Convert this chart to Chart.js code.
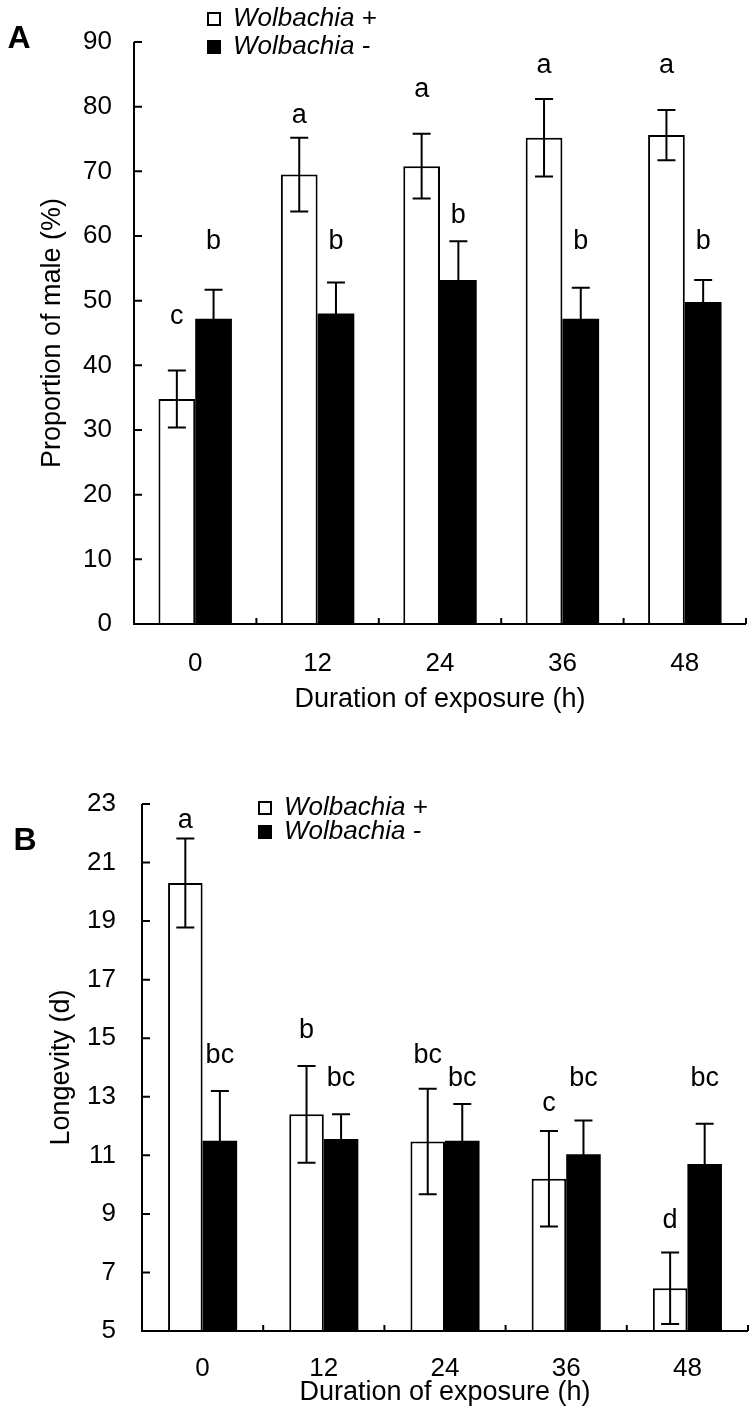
<!DOCTYPE html>
<html>
<head>
<meta charset="utf-8">
<script src="https://cdn.jsdelivr.net/npm/chart.js@4.4.0/dist/chart.umd.min.js"></script>
<style>
  html, body { margin: 0; padding: 0; background: #fff; }
  #wrapA { position: absolute; left: 0; top: 0; width: 756px; height: 720px; }
  #wrapB { position: absolute; left: 0; top: 720px; width: 756px; height: 694px; }
</style>
</head>
<body>
<div id="wrapA"><canvas id="chartA"></canvas></div>
<div id="wrapB"><canvas id="chartB"></canvas></div>
<script>
const hours = ['0', '12', '24', '36', '48'];
const seriesNames = ['Wolbachia +', 'Wolbachia -'];

// panel A: proportion of male (%)
const maleWolPlus = [34.8, 69.5, 70.8, 75.2, 75.6];
const maleWolPlusErr = [4.4, 5.7, 5.0, 6.0, 3.9];
const maleWolMinus = [47.2, 48.0, 53.2, 47.2, 49.8];
const maleWolMinusErr = [4.5, 4.8, 6.0, 4.8, 3.4];
const maleLettersPlus = ['c', 'a', 'a', 'a', 'a'];
const maleLettersPlusAt = [47.5, 78.6, 82.6, 86.4, 86.4];
const maleLettersMinus = ['b', 'b', 'b', 'b', 'b'];
const maleLettersMinusAt = [59.2, 59.2, 63.1, 59.2, 59.2];

// panel B: longevity (d)
const lifeWolPlus = [20.3, 12.4, 11.47, 10.2, 6.46];
const lifeWolPlusErr = [1.52, 1.65, 1.8, 1.63, 1.22];
const lifeWolMinus = [11.5, 11.56, 11.5, 11.04, 10.7];
const lifeWolMinusErr = [1.7, 0.84, 1.25, 1.15, 1.38];
const lifeLettersPlus = ['a', 'b', 'bc', 'c', 'd'];
const lifeLettersPlusAt = [22.45, 15.26, 14.42, 12.76, 8.77];
const lifeLettersMinus = ['bc', 'bc', 'bc', 'bc', 'bc'];
const lifeLettersMinusAt = [14.42, 13.61, 13.61, 13.61, 13.61];

const FONT = '"Liberation Sans", Arial, sans-serif';

// error bars, inward ticks, letters, legend and panel letter
const decorPlugin = {
    id: 'decor',
    afterDraw(chart, args, opts) {
        const ctx = chart.ctx;
        const { left, right, top, bottom } = chart.chartArea;
        const xs = chart.scales.x;
        const ys = chart.scales.y;
        ctx.save();
        ctx.strokeStyle = '#000';
        ctx.fillStyle = '#000';
        ctx.lineWidth = 2;

        // error bars
        chart.data.datasets.forEach((ds, i) => {
            const meta = chart.getDatasetMeta(i);
            meta.data.forEach((bar, j) => {
                const v = ds.data[j];
                const e = opts.errors[i][j];
                const yTop = ys.getPixelForValue(v + e);
                const yBot = ys.getPixelForValue(v - e);
                ctx.beginPath();
                ctx.moveTo(bar.x, yTop); ctx.lineTo(bar.x, yBot);
                ctx.moveTo(bar.x - 9, yTop); ctx.lineTo(bar.x + 9, yTop);
                ctx.moveTo(bar.x - 9, yBot); ctx.lineTo(bar.x + 9, yBot);
                ctx.stroke();
            });
        });

        // axes with inward ticks
        ctx.beginPath();
        ctx.moveTo(left, top); ctx.lineTo(left, bottom); ctx.lineTo(right, bottom);
        ys.ticks.forEach((t, i) => {
            const py = ys.getPixelForTick(i);
            ctx.moveTo(left, py); ctx.lineTo(left + 8, py);
        });
        const step = (right - left) / xs.ticks.length;
        for (let k = 1; k <= xs.ticks.length; k++) {
            const px = left + k * step;
            ctx.moveTo(px, bottom); ctx.lineTo(px, bottom - 6);
        }
        ctx.stroke();

        // significance letters
        ctx.font = '27px ' + FONT;
        ctx.textAlign = 'center';
        ctx.textBaseline = 'middle';
        chart.data.datasets.forEach((ds, i) => {
            const meta = chart.getDatasetMeta(i);
            meta.data.forEach((bar, j) => {
                ctx.fillText(opts.letters[i][j], bar.x, ys.getPixelForValue(opts.lettersAt[i][j]));
            });
        });

        // legend
        const lg = opts.legend;
        ctx.font = 'italic 26px ' + FONT;
        ctx.textAlign = 'left';
        ctx.textBaseline = 'middle';
        chart.data.datasets.forEach((ds, i) => {
            const cy = lg.y + i * lg.gap;
            if (i === 0) {
                ctx.fillStyle = '#fff';
                ctx.fillRect(lg.x, cy - 7, 14, 14);
                ctx.strokeRect(lg.x + 1, cy - 6, 12, 12);
            } else {
                ctx.fillStyle = '#000';
                ctx.fillRect(lg.x, cy - 7, 14, 14);
            }
            ctx.fillStyle = '#000';
            ctx.fillText(ds.label, lg.x + 26, cy);
        });

        // panel letter
        ctx.font = 'bold 32px ' + FONT;
        ctx.textAlign = 'center';
        ctx.fillText(opts.panel.text, opts.panel.x, opts.panel.y);
        ctx.restore();
    }
};

function makePanel(id, p) {
    new Chart(document.getElementById(id), {
        type: 'bar',
        data: {
            labels: hours,
            datasets: [{
                label: seriesNames[0],
                data: p.plus,
                backgroundColor: '#fff',
                borderColor: '#000',
                borderWidth: 2,
                borderSkipped: 'bottom'
            }, {
                label: seriesNames[1],
                data: p.minus,
                backgroundColor: '#000',
                borderColor: '#000',
                borderWidth: 0
            }]
        },
        options: {
            responsive: true,
            maintainAspectRatio: false,
            animation: false,
            devicePixelRatio: 1,
            datasets: { bar: { barPercentage: 1, categoryPercentage: p.catPct } },
            layout: { padding: p.padding },
            plugins: {
                legend: { display: false },
                tooltip: { enabled: false },
                decor: {
                    errors: [p.plusErr, p.minusErr],
                    letters: [p.plusLetters, p.minusLetters],
                    lettersAt: [p.plusLettersAt, p.minusLettersAt],
                    legend: p.legend,
                    panel: p.panel
                }
            },
            scales: {
                x: {
                    grid: { display: false, drawTicks: false },
                    border: { display: false },
                    ticks: { color: '#000', font: { family: FONT, size: 26 }, padding: p.xPad },
                    title: { display: true, text: 'Duration of exposure (h)', color: '#000',
                             font: { family: FONT, size: 27 }, padding: { top: 0, bottom: p.xTitlePad } },
                    afterFit: (s) => { s.height = p.xHeight; }
                },
                y: {
                    min: p.yMin,
                    max: p.yMax,
                    grid: { display: false, drawTicks: false },
                    border: { display: false },
                    ticks: { stepSize: p.yStep, color: '#000', font: { family: FONT, size: 26 }, padding: p.yPad },
                    title: { display: true, text: p.yTitle, color: '#000',
                             font: { family: FONT, size: 27 }, padding: { top: p.yTitlePad, bottom: 0 } },
                    afterFit: (s) => { s.width = p.yWidth; }
                }
            }
        },
        plugins: [decorPlugin]
    });
}

makePanel('chartA', {
    plus: maleWolPlus, minus: maleWolMinus,
    plusErr: maleWolPlusErr, minusErr: maleWolMinusErr,
    plusLetters: maleLettersPlus, minusLetters: maleLettersMinus,
    plusLettersAt: maleLettersPlusAt, minusLettersAt: maleLettersMinusAt,
    yMin: 0, yMax: 90, yStep: 10,
    yTitle: 'Proportion of male (%)',
    catPct: 0.6,
    padding: { left: 0, right: 10, top: 42, bottom: 0 },
    xHeight: 96, yWidth: 134,
    xPad: 24, yPad: 22, xTitlePad: 4, yTitlePad: 36,
    legend: { x: 207, y: 19, gap: 28 },
    panel: { text: 'A', x: 19, y: 39 }
});

makePanel('chartB', {
    plus: lifeWolPlus, minus: lifeWolMinus,
    plusErr: lifeWolPlusErr, minusErr: lifeWolMinusErr,
    plusLetters: lifeLettersPlus, minusLetters: lifeLettersMinus,
    plusLettersAt: lifeLettersPlusAt, minusLettersAt: lifeLettersMinusAt,
    yMin: 5, yMax: 23, yStep: 2,
    yTitle: 'Longevity (d)',
    catPct: 0.57,
    padding: { left: 0, right: 8, top: 84, bottom: 0 },
    xHeight: 83, yWidth: 142,
    xPad: 22, yPad: 26, xTitlePad: 5, yTitlePad: 45,
    legend: { x: 258, y: 88, gap: 24 },
    panel: { text: 'B', x: 25, y: 121 }
});
</script>
</body>
</html>
